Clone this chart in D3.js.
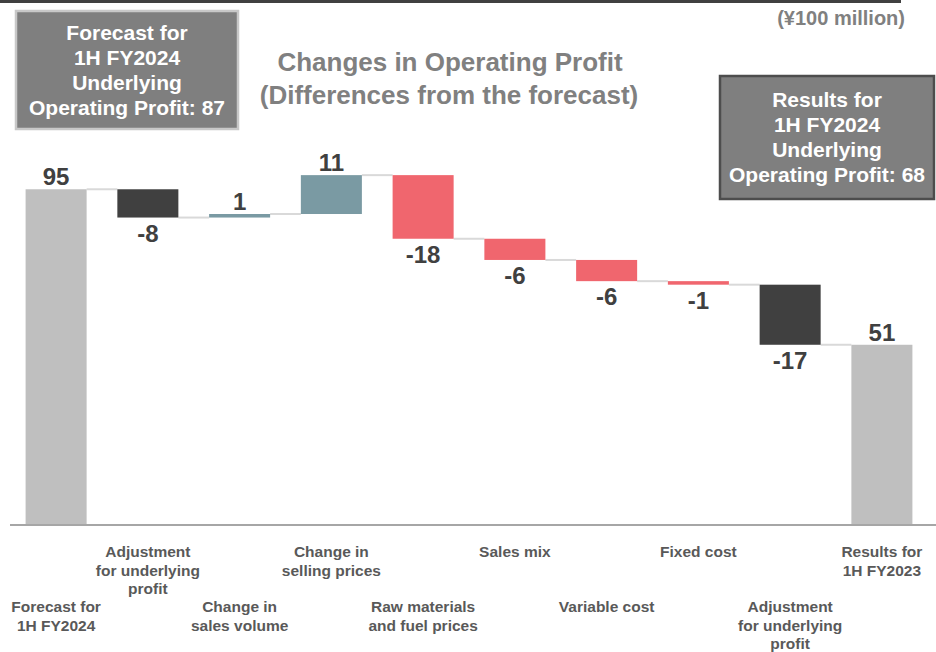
<!DOCTYPE html>
<html>
<head>
<meta charset="utf-8">
<script src="https://cdn.jsdelivr.net/npm/d3@7"></script>
<style>
  body { margin: 0; background: #fff; }
  text { font-family: "Liberation Sans", Arial, sans-serif; font-weight: bold; }
</style>
</head>
<body>
<script>
const categories = [
  "Forecast for\n1H FY2024",
  "Adjustment\nfor underlying\nprofit",
  "Change in\nsales volume",
  "Change in\nselling prices",
  "Raw materials\nand fuel prices",
  "Sales mix",
  "Variable cost",
  "Fixed cost",
  "Adjustment\nfor underlying\nprofit",
  "Results for\n1H FY2023"
];
const values = [95, -8, 1, 11, -18, -6, -6, -1, -17, 51];
const kinds = ["total", "adjust", "step", "step", "step", "step", "step", "step", "adjust", "total"];
const boxLeft = ["Forecast for", "1H FY2024", "Underlying", "Operating Profit: 87"];
const boxRight = ["Results for", "1H FY2024", "Underlying", "Operating Profit: 68"];

const W = 936, H = 652;
const svg = d3.select("body").append("svg").attr("width", W).attr("height", H);

// running totals for the waterfall
let run = 0;
const bars = values.map((v, i) => {
  let start, end;
  if (kinds[i] === "total") { start = 0; end = v; run = v; }
  else { start = run; end = run + v; run = end; }
  return { i, v, kind: kinds[i], start, end, lo: Math.min(start, end), hi: Math.max(start, end) };
});

const x = d3.scaleBand().domain(d3.range(values.length)).range([10, 928])
  .paddingInner(0.335).paddingOuter(0.17);
const y = d3.scaleLinear().domain([0, 100]).range([525, 171.6]);

const color = d => d.kind === "total" ? "#bfbfbf"
  : d.kind === "adjust" ? "#404040"
  : d.v >= 0 ? "#7a9aa3" : "#f0666e";

// top strip
svg.append("rect").attr("x", 0).attr("y", 0).attr("width", 901).attr("height", 3).attr("fill", "#404040");

// connectors
svg.append("g").selectAll("line").data(bars.slice(0, -1)).join("line")
  .attr("x1", d => x(d.i) + x.bandwidth())
  .attr("x2", d => x(d.i + 1))
  .attr("y1", d => y(d.end)).attr("y2", d => y(d.end))
  .attr("stroke", "#d9d9d9").attr("stroke-width", 2);

// bars
svg.append("g").selectAll("rect").data(bars).join("rect")
  .attr("x", d => x(d.i))
  .attr("width", x.bandwidth())
  .attr("y", d => y(d.hi))
  .attr("height", d => Math.max(y(d.lo) - y(d.hi), 1))
  .attr("fill", color);

// axis baseline
svg.append("line").attr("x1", 10).attr("x2", 936).attr("y1", y(0)).attr("y2", y(0))
  .attr("stroke", "#a6a6a6").attr("stroke-width", 2);

// value labels
svg.append("g").selectAll("text").data(bars).join("text")
  .attr("x", d => x(d.i) + x.bandwidth() / 2)
  .attr("y", d => d.v >= 0 ? y(d.hi) - 4 : y(d.lo) + 24)
  .attr("text-anchor", "middle")
  .attr("font-size", 24)
  .attr("fill", "#404040")
  .text(d => d.v);

// category labels, staggered in two rows
const lab = svg.append("g").selectAll("text").data(bars).join("text")
  .attr("text-anchor", "middle")
  .attr("font-size", 15.5)
  .attr("fill", "#595959")
  .attr("transform", d => `translate(${x(d.i) + x.bandwidth() / 2},${d.i % 2 ? 557 : 612})`);
lab.selectAll("tspan").data(d => categories[d.i].split("\n")).join("tspan")
  .attr("x", 0).attr("y", (t, k) => k * 18.5).text(t => t);

// title
svg.append("text").attr("x", 450).attr("y", 71).attr("text-anchor", "middle")
  .attr("font-size", 26).attr("fill", "#808080").text("Changes in Operating Profit");
svg.append("text").attr("x", 449).attr("y", 104).attr("text-anchor", "middle")
  .attr("font-size", 26).attr("fill", "#808080").text("(Differences from the forecast)");

// unit
svg.append("text").attr("x", 905).attr("y", 25).attr("text-anchor", "end")
  .attr("font-size", 20).attr("fill", "#808080").text("(¥100 million)");

// boxes
function box(bx, by, bw, bh, stroke, lines, ly) {
  svg.append("rect").attr("x", bx).attr("y", by).attr("width", bw).attr("height", bh)
    .attr("fill", "#7f7f7f").attr("stroke", stroke).attr("stroke-width", 2.5);
  svg.append("g").selectAll("text").data(lines).join("text")
    .attr("x", bx + bw / 2).attr("y", (t, k) => ly + k * 25)
    .attr("text-anchor", "middle").attr("font-size", 21).attr("fill", "#fff")
    .text(t => t);
}
box(16, 11, 222, 118, "#c8c8c8", boxLeft, 40);
box(720, 76, 214, 123, "#4d4d4d", boxRight, 107);
</script>
</body>
</html>
